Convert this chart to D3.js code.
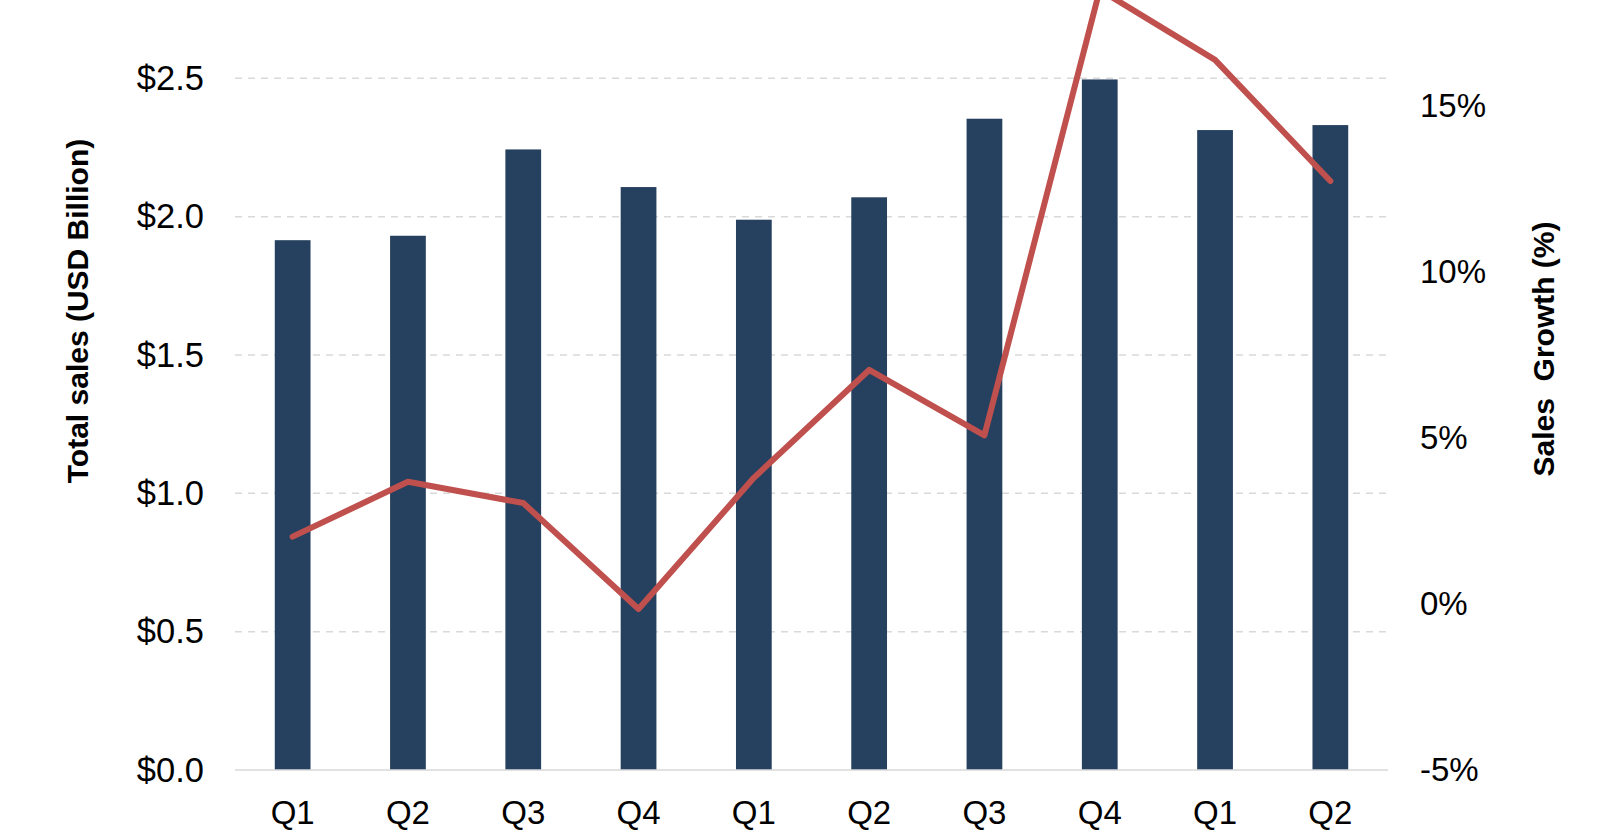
<!DOCTYPE html>
<html>
<head>
<meta charset="utf-8">
<script src="https://cdn.jsdelivr.net/npm/d3@7/dist/d3.min.js"></script>
<style>
  html, body { margin: 0; padding: 0; background: #fff; }
  svg { display: block; font-family: "Liberation Sans", Arial, sans-serif; }
</style>
</head>
<body>
<svg id="chart" width="1600" height="837"></svg>
<script>
const categories = ["Q1","Q2","Q3","Q4","Q1","Q2","Q3","Q4","Q1","Q2"];
const sales = [1.915, 1.931, 2.243, 2.107, 1.989, 2.070, 2.354, 2.496, 2.313, 2.331];
const growth = [2.03, 3.68, 3.04, -0.15, 3.80, 7.05, 5.08, 18.5, 16.39, 12.74];
const leftTicks = [0, 0.5, 1.0, 1.5, 2.0, 2.5];
const rightTicks = [-5, 0, 5, 10, 15];

const svg = d3.select("#chart");
const x0 = 235, x1 = 1388, yBottom = 770, yTop = -60;

const x = d3.scaleBand().domain(d3.range(categories.length)).range([x0, x1]).paddingInner(0.69).paddingOuter(0.345);
const yL = d3.scaleLinear().domain([0, 3]).range([yBottom, yTop]);
const yR = d3.scaleLinear().domain([-5, 20]).range([yBottom, yTop]);

// gridlines
svg.append("g").selectAll("line")
  .data(leftTicks.filter(d => d > 0))
  .join("line")
  .attr("x1", x0).attr("x2", x1)
  .attr("y1", d => yL(d)).attr("y2", d => yL(d))
  .attr("stroke", "#D9D9D9").attr("stroke-width", 1.5)
  .attr("stroke-dasharray", "7,6");

// bars
svg.append("g").selectAll("rect")
  .data(sales)
  .join("rect")
  .attr("x", (d, i) => x(i))
  .attr("width", x.bandwidth())
  .attr("y", d => yL(d))
  .attr("height", d => yL(0) - yL(d))
  .attr("fill", "#26405F");

// baseline
svg.append("line")
  .attr("x1", x0).attr("x2", x1)
  .attr("y1", yL(0)).attr("y2", yL(0))
  .attr("stroke", "#D9D9D9").attr("stroke-width", 1.5);

// line
const line = d3.line()
  .x((d, i) => x(i) + x.bandwidth() / 2)
  .y(d => yR(d));
svg.append("path")
  .datum(growth)
  .attr("d", line)
  .attr("fill", "none")
  .attr("stroke", "#C0504D")
  .attr("stroke-width", 6)
  .attr("stroke-linejoin", "round")
  .attr("stroke-linecap", "round");

// left axis labels
const leftAxis = d3.axisLeft(yL).tickValues(leftTicks).tickSize(0).tickPadding(0)
  .tickFormat(d => "$" + d3.format(".1f")(d));
const gL = svg.append("g").attr("transform", "translate(204,0)").call(leftAxis);
gL.select(".domain").remove();
gL.selectAll("text").attr("font-size", 34.5).attr("fill", "#000")
  .attr("font-family", "'Liberation Sans', Arial, sans-serif");

// right axis labels
const rightAxis = d3.axisRight(yR).tickValues(rightTicks).tickSize(0).tickPadding(0)
  .tickFormat(d => d + "%");
const gR = svg.append("g").attr("transform", "translate(1420,0)").call(rightAxis);
gR.select(".domain").remove();
gR.selectAll("text").attr("font-size", 33).attr("fill", "#000")
  .attr("font-family", "'Liberation Sans', Arial, sans-serif");

// x axis labels
const xAxis = d3.axisBottom(x).tickSize(0).tickPadding(0).tickFormat(i => categories[i]);
const gX = svg.append("g").attr("transform", "translate(0,801)").call(xAxis);
gX.select(".domain").remove();
gX.selectAll("text").attr("font-size", 33).attr("fill", "#000")
  .attr("font-family", "'Liberation Sans', Arial, sans-serif");

// axis titles
svg.append("text")
  .attr("transform", "translate(77,311) rotate(-90)")
  .attr("text-anchor", "middle")
  .attr("dominant-baseline", "central")
  .attr("font-size", 30).attr("font-weight", "bold").attr("fill", "#000")
  .text("Total sales (USD Billion)");

svg.append("text")
  .attr("transform", "translate(1543,349) rotate(-90)")
  .attr("text-anchor", "middle")
  .attr("dominant-baseline", "central")
  .attr("font-size", 30).attr("font-weight", "bold").attr("fill", "#000")
  .style("white-space", "pre")
  .text("Sales  Growth (%)");
</script>
</body>
</html>
